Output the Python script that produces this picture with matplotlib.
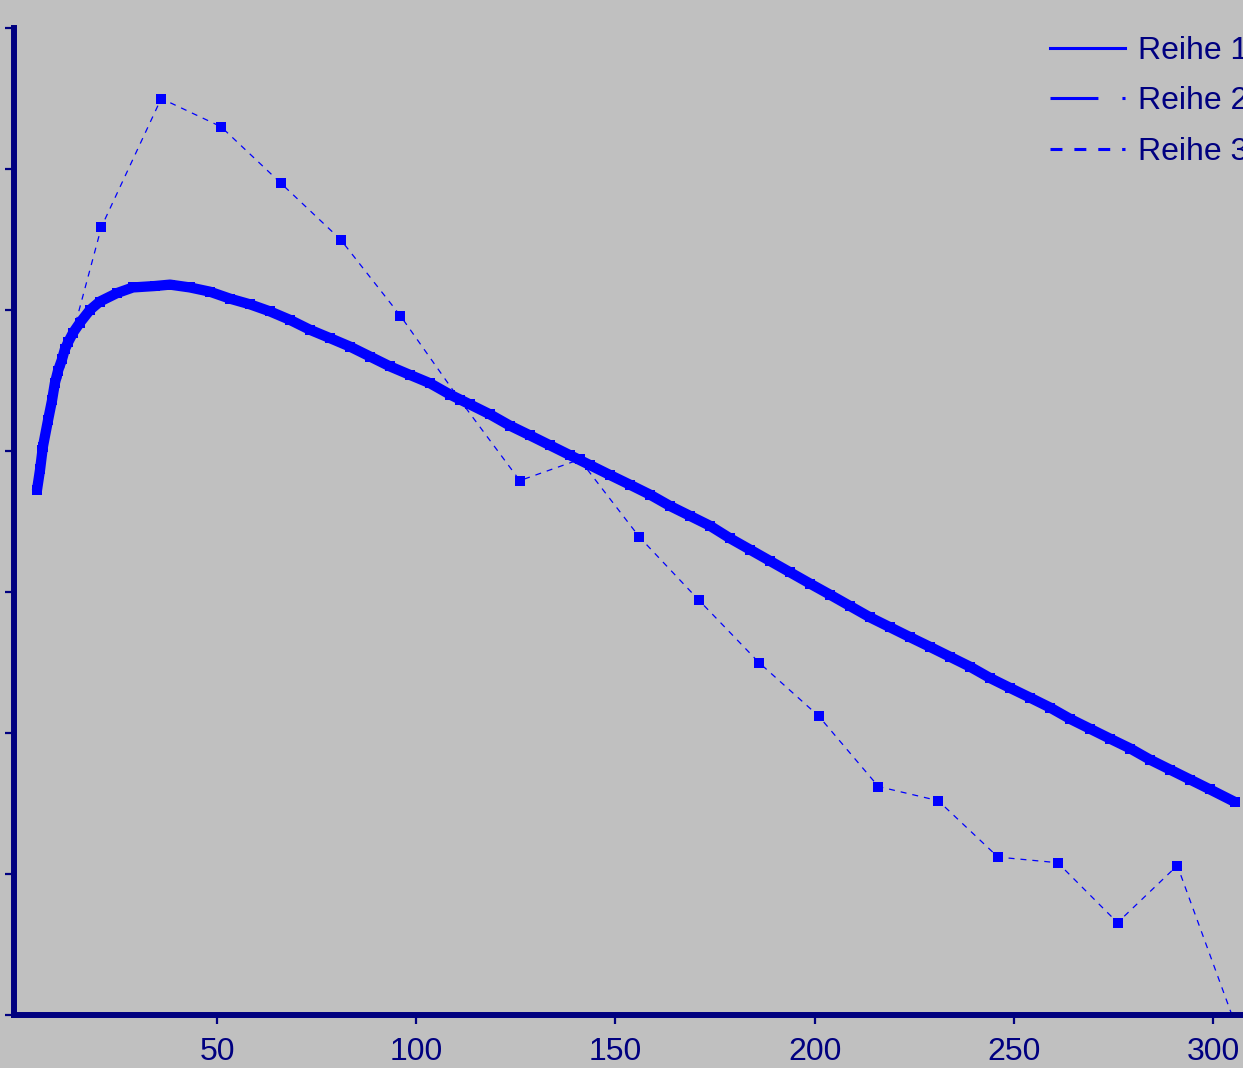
import matplotlib
matplotlib.use("Agg")
import matplotlib.pyplot as plt
from matplotlib.lines import Line2D

plt.rcParams['lines.scale_dashes'] = False
plt.rcParams['font.family'] = ['Liberation Sans', 'DejaVu Sans']

# ---- data ----
reihe1_x = [4.8, 5.6, 6.3, 7.6, 8.6, 9.3, 10.1, 11.1, 11.8, 12.6, 13.9, 15.6, 18.1, 20.6,
            24.9, 28.9, 34.4, 38.2, 43.2, 48.2, 53.3, 58.3, 63.3, 68.3, 73.3, 78.4, 83.4,
            88.4, 93.4, 98.4, 103.5, 108.5, 113.5, 118.5, 123.5, 128.6, 133.6, 138.6, 143.6,
            148.6, 153.7, 158.7, 163.7, 168.7, 173.7, 178.8, 183.8, 188.8, 193.8, 198.8,
            203.9, 208.9, 213.9, 218.9, 223.9, 229.0, 234.0, 239.0, 244.0, 249.0, 254.1,
            259.1, 264.1, 269.1, 274.1, 279.2, 284.2, 289.2, 294.2, 299.2, 305.5]
reihe1_y = [3.72, 3.87, 4.03, 4.22, 4.36, 4.48, 4.57, 4.65, 4.72, 4.77, 4.84, 4.91, 5.00, 5.06,
            5.12, 5.16, 5.17, 5.18, 5.16, 5.13, 5.08, 5.04, 4.99, 4.93, 4.86, 4.80, 4.74,
            4.67, 4.60, 4.54, 4.48, 4.40, 4.33, 4.26, 4.18, 4.11, 4.04, 3.97, 3.90,
            3.83, 3.76, 3.69, 3.61, 3.54, 3.47, 3.38, 3.30, 3.22, 3.14, 3.06,
            2.98, 2.90, 2.82, 2.75, 2.68, 2.61, 2.54, 2.47, 2.39, 2.32, 2.25,
            2.18, 2.10, 2.03, 1.96, 1.89, 1.81, 1.74, 1.67, 1.60, 1.51]

reihe3_x = [6, 21, 36, 51, 66, 81, 96, 111, 126, 141, 156, 171, 186, 201, 216, 231,
            246, 261, 276, 291, 306]
reihe3_y = [4.01, 5.59, 6.50, 6.30, 5.90, 5.50, 4.96, 4.36, 3.79, 3.94, 3.39, 2.94,
            2.50, 2.12, 1.62, 1.52, 1.12, 1.08, 0.655, 1.06, -0.10]

x_ticks = [50, 100, 150, 200, 250, 300]
x_ticklabels = ['50', '100', '150', '200', '250', '300']
y_ticks = [0, 1, 2, 3, 4, 5, 6, 7]
series_names = ['Reihe 1', 'Reihe 2', 'Reihe 3']

BG = '#C0C0C0'
NAVY = '#000080'
BLUE = '#0000FF'

W, H = 1243, 1068
fig = plt.figure(figsize=(W / 100, H / 100), dpi=100, facecolor=BG)

L, R = 14, 1253
B, T = 1015, 28
ax = fig.add_axes([L / W, (H - B) / H, (R - L) / W, (B - T) / H])
ax.set_facecolor(BG)
ax.set_xlim(-0.95, 310.0)
ax.set_ylim(0, 7)

# Reihe 1 (thick)
ax.plot(reihe1_x, reihe1_y, color=BLUE, lw=7.4, marker='s', ms=7.0, mew=0,
        solid_capstyle='butt', solid_joinstyle='round', zorder=3)

# Reihe 3 (dashed with square markers)
ax.plot(reihe3_x, reihe3_y, color=BLUE, lw=0.9, linestyle=(0, (4.3, 4.3)),
        marker='s', ms=6.6, mew=0, zorder=2)

for side in ['top', 'right']:
    ax.spines[side].set_visible(False)
for side in ['left', 'bottom']:
    ax.spines[side].set_color(NAVY)
    ax.spines[side].set_linewidth(4.3)
    ax.spines[side].set_zorder(4)

ax.set_xticks(x_ticks)
ax.set_xticklabels(x_ticklabels)
ax.set_yticks(y_ticks)
ax.set_yticklabels([])
ax.tick_params(axis='both', direction='out', length=6.5, width=1.6, color=NAVY,
               labelcolor=NAVY, labelsize=23)
ax.tick_params(axis='x', pad=9)

handles = [
    Line2D([], [], color=BLUE, lw=2.2),
    Line2D([], [], color=BLUE, lw=2.2, dashes=(34.5, 17.3, 2.2, 20)),
    Line2D([], [], color=BLUE, lw=2.2, dashes=(8.6, 8.6)),
]
leg = fig.legend(handles, series_names, loc='upper left',
                 bbox_to_anchor=(1050 / W, (H - 36) / H), frameon=False,
                 fontsize=23, handlelength=2.35, handletextpad=0.41,
                 labelspacing=0.64, borderpad=0, borderaxespad=0)
for t in leg.get_texts():
    t.set_color(NAVY)

fig.savefig('out.png', dpi=100, facecolor=BG)
